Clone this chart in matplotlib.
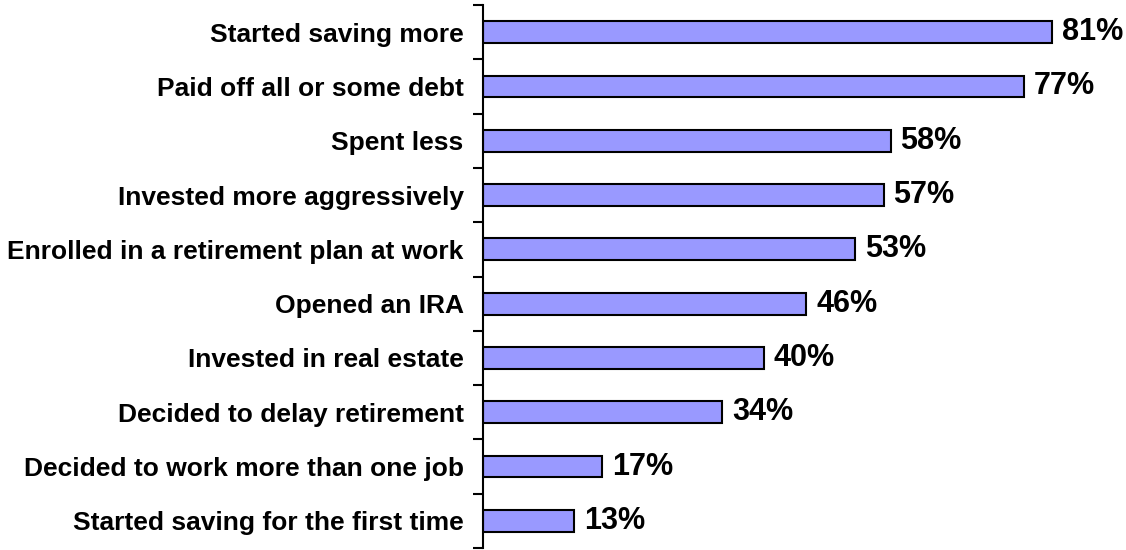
import numpy as np
import matplotlib
matplotlib.use("Agg")
import matplotlib.pyplot as plt

# survey responses, top to bottom
actions = [
    "Started saving more",
    "Paid off all or some debt",
    "Spent less",
    "Invested more aggressively",
    "Enrolled in a retirement plan at work",
    "Opened an IRA",
    "Invested in real estate",
    "Decided to delay retirement",
    "Decided to work more than one job",
    "Started saving for the first time",
]
pct = [81, 77, 58, 57, 53, 46, 40, 34, 17, 13]

plt.rcParams['font.family'] = ['Liberation Sans', 'DejaVu Sans']

fig = plt.figure(figsize=(11.26, 5.5), dpi=100)
ax = fig.add_axes([483 / 1126, 2 / 550, 643 / 1126, 543 / 550])

y = np.arange(len(actions))
ax.barh(y, pct, height=0.4, color='#9999FF', edgecolor='black', linewidth=1.5)

for yi, v in zip(y, pct):
    ax.text(v + 1.4, yi, f"{v}%", va='center', ha='left',
            fontsize=22, fontweight='bold')

ax.set_xlim(0, 91.5)
ax.set_ylim(len(actions) - 0.5, -0.5)

ax.set_yticks(y)
ax.set_yticklabels(actions, fontsize=19, fontweight='bold')
ax.set_yticks(np.arange(-0.5, len(actions)), minor=True)
ax.tick_params(axis='y', which='major', length=0, pad=14)
ax.tick_params(axis='y', which='minor', length=7, width=1.5, direction='out')
ax.set_xticks([])

for s in ['top', 'right', 'bottom']:
    ax.spines[s].set_visible(False)
ax.spines['left'].set_linewidth(1.5)

fig.savefig("out.png", dpi=100)
